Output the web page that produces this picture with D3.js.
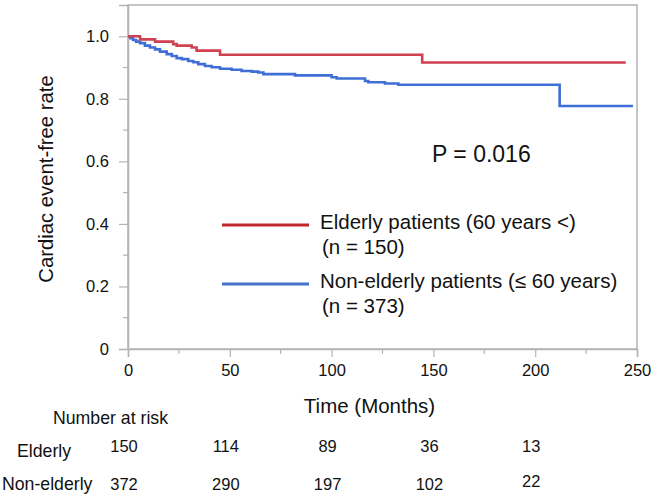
<!DOCTYPE html>
<html>
<head>
<meta charset="utf-8">
<script src="https://cdn.jsdelivr.net/npm/d3@7"></script>
<style>
  body { margin: 0; background: #fff; }
  text { font-family: "Liberation Sans", Arial, sans-serif; fill: #111; }
</style>
</head>
<body>
<div id="chart"></div>
<script>
const width = 664;
const height = 497;
const margin = {top: 5, right: 27, bottom: 148, left: 128};

// Kaplan-Meier steps (months, event-free rate)
const elderlyTime = [0, 5.9, 13.3, 22.2, 23.9, 31.3, 33.7, 45.2, 144.5, 244.5];
const elderlyRate = [1.0, 0.990, 0.983, 0.975, 0.970, 0.964, 0.954, 0.941, 0.916, 0.916];

const nonElderlyTime = [0, 1.2, 2.5, 4, 5.9, 8.3, 10.8, 13.3, 15.7, 19, 21.5, 23.9, 26.4, 29.6, 32.1, 34.5,
  37.8, 41.1, 45.2, 50.9, 55.8, 60.8, 64, 66.5, 82, 100, 102.5, 116.4, 118, 126.2, 132.8, 212, 248];
const nonElderlyRate = [1.0, 0.994, 0.988, 0.983, 0.978, 0.970, 0.964, 0.958, 0.951, 0.943, 0.937, 0.930, 0.927, 0.921, 0.917, 0.911,
  0.905, 0.901, 0.896, 0.893, 0.889, 0.887, 0.884, 0.879, 0.875, 0.869, 0.865, 0.857, 0.853, 0.849, 0.845, 0.777, 0.777];

// number at risk table
const riskTimes = [0, 50, 100, 150, 200];
const riskElderly = [150, 114, 89, 36, 13];
const riskNonElderly = [372, 290, 197, 102, 22];

const xTicks = [0, 50, 100, 150, 200, 250];
const xMinor = [25, 75, 125, 175, 225];
const yTicks = [0, 0.2, 0.4, 0.6, 0.8, 1.0];
const yMinor = [0.1, 0.3, 0.5, 0.7, 0.9];

const svg = d3.select("#chart").append("svg")
  .attr("width", width)
  .attr("height", height);

const x = d3.scaleLinear().domain([0, 250]).range([margin.left, width - margin.right]);
const y = d3.scaleLinear().domain([0, 1.1]).range([height - margin.bottom, margin.top]);

const frameColor = "#b3b3b3";

// frame (top + right)
svg.append("rect")
  .attr("x", x(0)).attr("y", y(1.1))
  .attr("width", x(250) - x(0)).attr("height", y(0) - y(1.1))
  .attr("fill", "none").attr("stroke", frameColor).attr("stroke-width", 1.5);

// y axis
const yAxis = svg.append("g")
  .attr("transform", `translate(${x(0)},0)`)
  .call(d3.axisLeft(y).tickValues(yTicks).tickSize(9).tickPadding(10)
    .tickFormat(d => d === 0 ? "0" : d3.format(".1f")(d)));
svg.append("g").selectAll("line").data(yMinor).enter().append("line")
  .attr("x1", x(0) - 5).attr("x2", x(0))
  .attr("y1", d => y(d)).attr("y2", d => y(d))
  .attr("stroke", frameColor).attr("stroke-width", 1.2);

// x axis
const xAxis = svg.append("g")
  .attr("transform", `translate(0,${y(0)})`)
  .call(d3.axisBottom(x).tickValues(xTicks).tickSize(8).tickPadding(7).tickFormat(d3.format("d")));
svg.append("g").selectAll("line").data(xMinor).enter().append("line")
  .attr("x1", d => x(d)).attr("x2", d => x(d))
  .attr("y1", y(0)).attr("y2", y(0) + 5)
  .attr("stroke", frameColor).attr("stroke-width", 1.2);

[xAxis, yAxis].forEach(g => {
  g.select(".domain").attr("stroke", frameColor).attr("stroke-width", 1.5);
  g.selectAll(".tick line").attr("stroke", frameColor).attr("stroke-width", 1.2);
  g.selectAll(".tick text").attr("font-size", 16.5)
    .attr("font-family", "Liberation Sans, Arial, sans-serif").attr("fill", "#111");
});

// curves
const line = d3.line()
  .x(d => x(d[0]))
  .y(d => y(d[1]))
  .curve(d3.curveStepAfter);

const elderly = d3.zip(elderlyTime, elderlyRate);
const nonElderly = d3.zip(nonElderlyTime, nonElderlyRate);

svg.append("path").datum(nonElderly)
  .attr("d", line).attr("fill", "none")
  .attr("stroke", "#3f6fd6").attr("stroke-width", 2.6);

svg.append("path").datum(elderly)
  .attr("d", line).attr("fill", "none")
  .attr("stroke", "#d0424f").attr("stroke-width", 2.6);

// p value
svg.append("text")
  .attr("x", 432).attr("y", 162)
  .attr("font-size", 23)
  .text("P = 0.016");

// legend
const legend = [
  {color: "#c0242c", label: "Elderly patients (60 years <)", n: "(n = 150)", y: 225},
  {color: "#4472cc", label: "Non-elderly patients (\u2264 60 years)", n: "(n = 373)", y: 284}
];
const lg = svg.append("g").selectAll("g").data(legend).enter().append("g");
lg.append("line")
  .attr("x1", 222).attr("x2", 309)
  .attr("y1", d => d.y).attr("y2", d => d.y)
  .attr("stroke", d => d.color).attr("stroke-width", 3.2);
lg.append("text")
  .attr("x", 320).attr("y", d => d.y + 3.5)
  .attr("font-size", 20.5)
  .text(d => d.label);
lg.append("text")
  .attr("x", 322).attr("y", d => d.y + 29)
  .attr("font-size", 20.5)
  .text(d => d.n);

// axis titles
svg.append("text")
  .attr("x", 369.5).attr("y", 413)
  .attr("text-anchor", "middle")
  .attr("font-size", 20.5)
  .text("Time (Months)");

svg.append("text")
  .attr("transform", "translate(53,179) rotate(-90)")
  .attr("text-anchor", "middle")
  .attr("font-size", 20.3)
  .text("Cardiac event-free rate");

// number at risk
svg.append("text")
  .attr("x", 53).attr("y", 424)
  .attr("font-size", 17.7)
  .text("Number at risk");

svg.append("text").attr("x", 17).attr("y", 457).attr("font-size", 17.7).text("Elderly");
svg.append("text").attr("x", 2).attr("y", 490).attr("font-size", 17.7).text("Non-elderly");

svg.append("g").selectAll("text").data(d3.zip(riskTimes, riskElderly)).enter().append("text")
  .attr("x", d => x(d[0]) - 4).attr("y", 452)
  .attr("text-anchor", "middle").attr("font-size", 16.5)
  .text(d => d[1]);

svg.append("g").selectAll("text").data(d3.zip(riskTimes, riskNonElderly)).enter().append("text")
  .attr("x", d => x(d[0]) - 4).attr("y", (d, i) => i === 4 ? 487 : 490)
  .attr("text-anchor", "middle").attr("font-size", 16.5)
  .text(d => d[1]);
</script>
</body>
</html>
